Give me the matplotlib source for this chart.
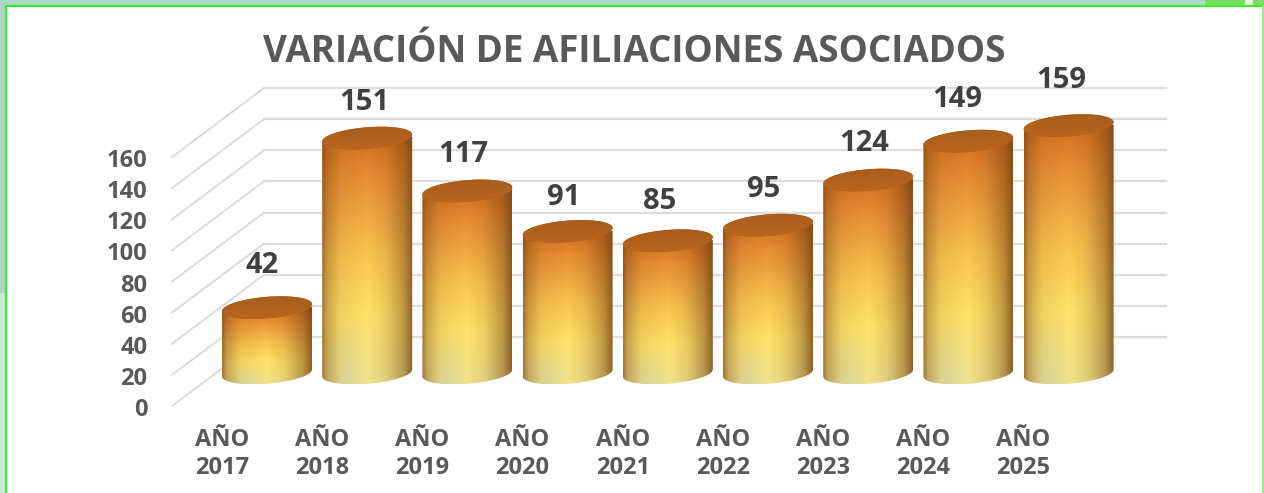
import numpy as np
import matplotlib
matplotlib.use('Agg')
import matplotlib.pyplot as plt
from matplotlib.patches import PathPatch, Rectangle
from matplotlib.path import Path

plt.rcParams['font.family'] = ['Open Sans', 'DejaVu Sans']

years = ['AÑO\n2017', 'AÑO\n2018', 'AÑO\n2019', 'AÑO\n2020', 'AÑO\n2021',
         'AÑO\n2022', 'AÑO\n2023', 'AÑO\n2024', 'AÑO\n2025']
values = [42, 151, 117, 91, 85, 95, 124, 149, 159]
y_ticks = [0, 20, 40, 60, 80, 100, 120, 140, 160]

# hand placed data labels, offset in pixels from the top of each cylinder
label_dx = [-4.5, -3, -4, -4, -8, -4, -4, -11, -7]
label_dy = [45, 38.5, 39.5, 37, 42, 39, 39.5, 44.5, 48]

W, H = 1264, 493
PX_X = 100.2      # pixels per category
PX_Y = 1.556      # pixels per unit of value
X0_PX = 267.0     # centre of first cylinder
Y0_PX = 373.0     # centre of the cylinder bases

fig = plt.figure(figsize=(W / 100, H / 100), dpi=100, facecolor='white')
ax = fig.add_axes([0, 0, 1, 1])
ax.axis('off')


def xd(px):
    return (px - X0_PX) / PX_X


def yd(px):
    return (Y0_PX - px) / PX_Y


def cylinder_image(n=160):
    u = np.linspace(0, 1, n)
    v = np.linspace(0, 1, n)
    uu, vv = np.meshgrid(u, v)
    # vertical ramp, yellow at bottom to orange at top
    stops = np.array([[240, 226, 140], [255, 226, 106], [252, 200, 84],
                      [232, 140, 50], [210, 112, 30]], float)
    pos = [0.0, 0.28, 0.5, 0.85, 1.0]
    img = np.dstack([np.interp(vv, pos, stops[:, c]) for c in range(3)])
    # pale green on the lower left
    pale = np.clip(1 - np.abs(uu - 0.28) / 0.25, 0, 1) * np.clip((0.25 - vv) / 0.25, 0, 1)
    img = img * (1 - pale[..., None] * 0.8) + np.array([224, 226, 165]) * pale[..., None] * 0.8
    # sides go to brown, not to black
    shade = np.interp(uu, [0, 0.05, 0.2, 0.5, 0.7, 0.9, 1.0],
                      [0.35, 0.62, 0.9, 1.0, 0.88, 0.55, 0.22])
    edge = np.array([112, 62, 16], float)
    img = img * shade[..., None] + edge * (1 - shade[..., None])
    return np.clip(img / 255, 0, 1)


def draw_grid():
    for t in y_ticks:
        front_y = yd(406) + t
        back_y = yd(337) + t
        ax.plot([xd(172), xd(264)], [front_y, back_y], color='#dcdcdc', lw=1.5, zorder=1)
        ax.plot([xd(264), xd(1166)], [back_y, back_y], color='#dcdcdc', lw=1.6, zorder=1)
        ax.text(xd(147.5), yd(410) + t, str(t), ha='right', va='center', fontsize=17,
                fontweight='bold', color='#595959')


def draw_cylinder(i, val):
    half_w = 45 / PX_X
    ry = 10.8 / PX_Y
    tilt = 3.5 / PX_Y
    t = np.linspace(0, np.pi, 60)
    # bottom edge runs from the left rim round the front to the right rim
    bx = i - half_w * np.cos(t)
    by = -tilt * np.cos(t) - ry * np.sin(t)
    tx = bx[::-1]
    ty = -tilt * np.cos(t[::-1]) + val
    verts = np.vstack([np.column_stack([bx, by]), np.column_stack([tx, ty]), [[bx[0], by[0]]]])
    codes = [Path.MOVETO] + [Path.LINETO] * (len(verts) - 2) + [Path.CLOSEPOLY]
    body = PathPatch(Path(verts, codes), fc='none', ec='none', zorder=3)
    ax.add_patch(body)
    im = ax.imshow(cylinder_image(), extent=[i - half_w, i + half_w, by.min(), val],
                   origin='lower', aspect='auto', zorder=3, interpolation='bilinear')
    im.set_clip_path(body)
    # top cap
    th = np.linspace(0, 2 * np.pi, 120)
    cx = i - half_w * np.cos(th)
    cy = val - tilt * np.cos(th) + ry * np.sin(th)
    cap = ax.fill(cx, cy, color='#b0601c', lw=0, zorder=4)[0]
    low = np.array([188, 102, 30])
    high = np.array([166, 92, 28])
    grad = low + np.linspace(0, 1, 64)[:, None, None] * (high - low)
    cim = ax.imshow(grad / 255, extent=[i - half_w, i + half_w, val - ry - tilt, val + ry + tilt],
                    origin='lower', aspect='auto', zorder=4, interpolation='bilinear')
    cim.set_clip_path(cap)
    ax.text(i + label_dx[i] / PX_X, val + (label_dy[i] - 3) / PX_Y, str(val), ha='center', va='center',
            fontsize=21, fontweight='bold', color='#404040', zorder=6)


draw_grid()
for i, val in enumerate(values):
    draw_cylinder(i, val)
    ax.text(i - 0.45, yd(454), years[i], ha='center', va='center', fontsize=17,
            fontweight='bold', color='#595959', linespacing=1.2)

ax.set_xlim(-X0_PX / PX_X, (W - X0_PX) / PX_X)
ax.set_ylim(-(H - Y0_PX) / PX_Y, Y0_PX / PX_Y)

ax.text(xd(634.5), yd(51.5), 'VARIACIÓN DE AFILIACIONES ASOCIADOS', ha='center', va='center',
        fontsize=26.5, fontweight='bold', color='#595959', zorder=6)

# slide frame around the chart
frame = [
    ((0, H - 5), W, 5, '#aad8c2'),
    ((0, 200), 5, H - 200, '#aad8c2'),
    ((0, 0), 5, 200, '#c6ecc8'),
    ((5, H - 7), W - 5, 2, '#2cf52c'),
    ((5, 0), 2, H - 5, '#2cf52c'),
    ((W - 2, 0), 2, H - 5, '#90ee90'),
    ((1205, H - 5), 59, 5, '#7adc62'),
    ((1245, H - 5), 8, 5, '#e8f8e0'),
]
for xy, w, h, col in frame:
    fig.add_artist(Rectangle((xy[0] / W, xy[1] / H), w / W, h / H, transform=fig.transFigure,
                             fc=col, ec='none'))

fig.savefig('out.png', dpi=100)
